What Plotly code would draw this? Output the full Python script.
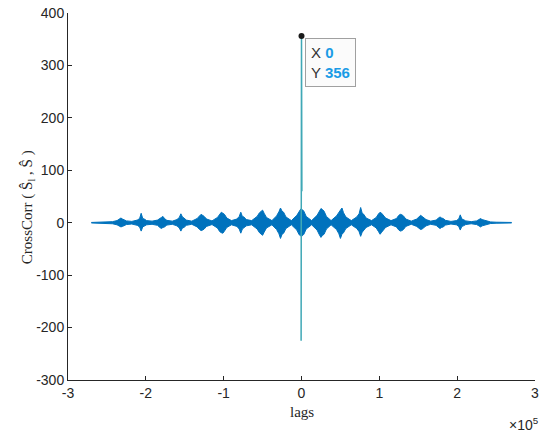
import numpy as np
import plotly.graph_objects as go

# envelope of the cross-correlation (lags in thousands)
lag_k = [-270, -260, -250, -243,
         -237, -234, -232, -230, -228, -225, -218,
         -211, -208, -206, -204, -202, -199, -192,
         -185, -182, -180, -178, -176, -173, -166,
         -160, -157, -155, -153, -151, -148, -141,
         -134, -131, -129, -127, -125, -122, -115,
         -108, -105, -103, -101, -99, -96, -90,
         -83, -80, -78, -76, -74, -71, -64,
         -57, -54, -52, -50, -48, -45, -38,
         -32, -29, -27, -25, -23, -20, -13,
         -6, -3, -1, 1, 3, 6, 13,
         20, 23, 25, 27, 29, 32, 38,
         45, 48, 50, 52, 54, 57, 64,
         71, 74, 76, 78, 80, 83, 90,
         96, 99, 101, 103, 105, 108, 115,
         122, 125, 127, 129, 131, 134, 141,
         148, 151, 153, 155, 157, 160, 166,
         173, 176, 178, 180, 182, 185, 192,
         199, 202, 204, 206, 208, 211, 218,
         225, 228, 230, 232, 234, 237,
         243, 250, 260, 270]

upper = [0.5, 0.8, 1.2, 2,
         4, 7, 9, 7, 6, 3.5, 2.5,
         5, 8, 18, 8, 7, 4, 3,
         5, 9, 10, 12, 8, 4.5, 3,
         6, 10, 17, 11, 9, 5, 3,
         8, 13, 16, 14, 12, 7, 3.5,
         10, 17, 20, 18, 16, 9, 4,
         7, 12, 20, 12, 11, 6, 4,
         12, 19, 22, 24, 18, 10, 4,
         13, 21, 28, 22, 20, 11, 4,
         14, 23, 26, 25, 22, 12, 4,
         14, 23, 27, 25, 22, 12, 4,
         13, 21, 24, 28, 19, 11, 4,
         11, 17, 29, 18, 16, 9, 4,
         10, 17, 20, 18, 15, 9, 4,
         8, 14, 16, 15, 13, 7, 3,
         7, 11, 14, 12, 10, 6, 3,
         5, 9, 11, 9, 8, 4.5, 2.5,
         4, 7, 15, 7, 6, 3.5, 2,
         3.5, 6, 8, 6, 5, 3,
         1.5, 1, 0.7, 0.5]

lower = [-0.5, -0.8, -1.2, -2,
         -4, -7, -8, -7, -6, -3.5, -2.5,
         -5, -8, -16, -8, -6, -4, -3,
         -5, -9, -11, -9, -8, -4.5, -3,
         -6, -10, -16, -10, -9, -5, -3,
         -8, -13, -15, -14, -12, -7, -3.5,
         -10, -17, -19, -20, -16, -9, -4,
         -7, -12, -20, -12, -10, -6, -4,
         -12, -19, -22, -24, -18, -10, -4,
         -13, -21, -30, -22, -20, -11, -4,
         -14, -23, -25, -25, -22, -12, -4,
         -14, -23, -28, -24, -22, -12, -4,
         -13, -21, -30, -22, -19, -11, -4,
         -11, -17, -26, -18, -15, -9, -4,
         -10, -17, -22, -18, -15, -9, -4,
         -8, -14, -16, -15, -13, -7, -3,
         -7, -11, -13, -12, -10, -6, -3,
         -5, -9, -11, -9, -8, -4.5, -2.5,
         -4, -7, -14, -7, -6, -3.5, -2,
         -3.5, -6, -8, -6, -5, -3,
         -1.5, -1, -0.7, -0.5]

# the zero-lag spike
spike_lags = [-500, 0, 500]
spike_vals = [-225, 356, 60]

tick_x = [-3e5, -2e5, -1e5, 0, 1e5, 2e5, 3e5]
tick_x_text = ["-3", "-2", "-1", "0", "1", "2", "3"]
tick_y = [-300, -200, -100, 0, 100, 200, 300, 400]
tick_y_text = ["-300", "-200", "-100", "0", "100", "200", "300", "400"]

lags = np.array(lag_k) * 1000
blue = "#0072BD"
ink = "#262626"

fig = go.Figure()
fig.add_trace(go.Scatter(x=lags, y=upper, mode="lines",
                         line=dict(color=blue, width=1), showlegend=False, hoverinfo="skip"))
fig.add_trace(go.Scatter(x=lags, y=lower, mode="lines", fill="tonexty", fillcolor=blue,
                         line=dict(color=blue, width=1), showlegend=False, hoverinfo="skip"))
fig.add_trace(go.Scatter(x=spike_lags, y=spike_vals, mode="lines",
                         line=dict(color="#3fa8b6", width=1.5), showlegend=False))
# data tip dot at the max
fig.add_trace(go.Scatter(x=[spike_lags[1]], y=[spike_vals[1]], mode="markers",
                         marker=dict(color="#1a1a1a", size=6), showlegend=False))

fig.add_annotation(x=spike_lags[1], y=spike_vals[1], xref="x", yref="y",
                   xanchor="left", yanchor="top", xshift=3, yshift=-2, showarrow=False, align="left",
                   text="X <span style='color:#1a9be6'><b>0</b></span><br>Y <span style='color:#1a9be6'><b>356</b></span>",
                   font=dict(family="Liberation Sans, Arial", size=15, color="#333333"),
                   bgcolor="#fbfbfb", bordercolor="#a0a0a0", borderwidth=1, borderpad=5)

fig.add_annotation(x=-0.11, y=0.47, xref="paper", yref="paper", textangle=-90, showarrow=False,
                   text="CrossCorr ( Ŝ<sub>l</sub> , Ŝ )",
                   font=dict(family="Liberation Serif, DejaVu Serif", size=15, color=ink))
fig.add_annotation(x=0.5, y=-0.115, xref="paper", yref="paper", showarrow=False,
                   text="lags", font=dict(family="Liberation Serif, DejaVu Serif", size=15, color=ink))
fig.add_annotation(x=1.012, y=-0.15, xref="paper", yref="paper", xanchor="right", showarrow=False,
                   text="×10<sup>5</sup>", font=dict(family="Liberation Sans, Arial", size=14, color=ink))

fig.update_xaxes(range=[-3e5, 3e5], tickvals=tick_x, ticktext=tick_x_text, automargin=False,
                 ticks="inside", ticklen=4, tickcolor=ink, showline=True, linecolor=ink, linewidth=1,
                 showgrid=False, zeroline=False,
                 tickfont=dict(family="Liberation Sans, Arial", size=14, color=ink))
fig.update_yaxes(range=[-300, 400], tickvals=tick_y, ticktext=tick_y_text, ticklabeloverflow="allow",
                 automargin=False,
                 ticks="inside", ticklen=4, tickcolor=ink, showline=True, linecolor=ink, linewidth=1,
                 showgrid=False, zeroline=False,
                 tickfont=dict(family="Liberation Sans, Arial", size=14, color=ink))

fig.update_layout(width=550, height=436, plot_bgcolor="white", paper_bgcolor="white",
                  margin=dict(l=68, r=15, t=12.5, b=56))

# drop the page's default body margin so the figure sits at the window corner
fig.write_html("out.html", config={"displayModeBar": False},
               post_script="document.body.style.margin='0';")
